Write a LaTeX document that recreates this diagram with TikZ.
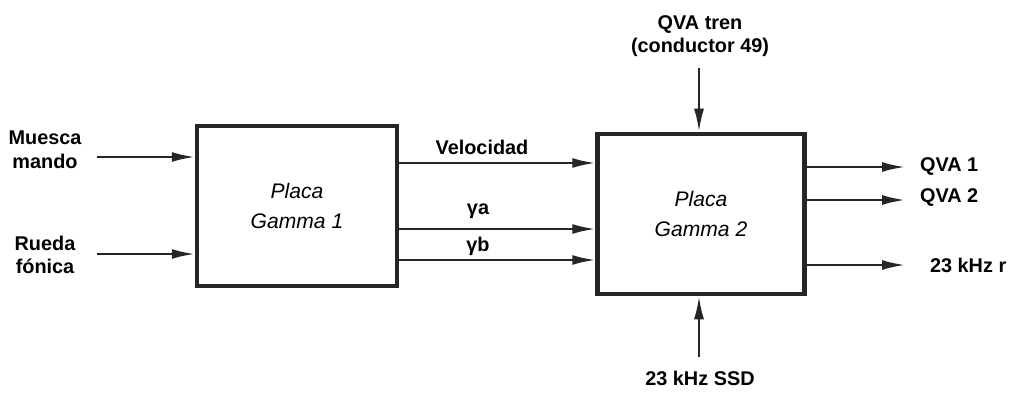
\documentclass[tikz,border=0pt]{standalone}
\usepackage{fontspec}
\setmainfont{Liberation Sans}
\usetikzlibrary{positioning, arrows.meta, calc}

\begin{document}
\begin{tikzpicture}[
    x=0.2mm, y=-0.2mm,
    >={Latex[length=4.6mm,width=2mm]},
    % Styles for nodes
    placa/.style={draw=black!85, rectangle, line width=0.9mm, minimum width=4cm, minimum height=3.2cm, align=center, font=\fontsize{12}{14}\selectfont\itshape},
    etiq/.style={align=center, inner sep=1pt, font=\fontsize{11.3}{13.5}\selectfont\bfseries},
    senal/.style={->, line width=0.45mm, draw=black!85}
]
    \useasboundingbox (0,0) rectangle (1010,393);

    % Boards
    \node (g1) [placa] at (297,206) {Placa\\[3pt]Gamma 1};
    \node (g2) [placa, minimum width=4.14cm] at (701,214) {Placa\\[3pt]Gamma 2};

    % Free ends of the connectors
    \coordinate (muesca) at (97,157);
    \coordinate (rueda) at (97,254);
    \coordinate (qvat) at (699,68);
    \coordinate (ssd) at (699,357);
    \coordinate (q1) at (905,167);
    \coordinate (q2) at (905,200);
    \coordinate (khz) at (905,265);

    % Texts
    \node (lmues) [etiq] at (45,150) {Muesca\\mando};
    \node (lrued) [etiq] at (45,255) {Rueda\\fónica};
    \node (lvel) [etiq] at (482,147) {Velocidad};
    \node (lga) [etiq] at (478,211) {γa};
    \node (lgb) [etiq] at (478,246) {γb};
    \node (lqvat) [etiq] at (700,36) {QVA tren\\(conductor 49)};
    \node (lssd) [etiq] at (700,378) {23 kHz SSD};
    \node (lq1) [etiq, anchor=west] at (918,167) {QVA 1};
    \node (lq2) [etiq, anchor=west] at (918,198) {QVA 2};
    \node (lkhz) [etiq, anchor=west] at (928,265) {23 kHz r};

    % Inputs of board 1
    \draw [senal] (muesca) -- (muesca -| g1.west);
    \draw [senal] (rueda) -- (rueda -| g1.west);

    % Board 1 to board 2
    \draw [senal] (g1.east |- 0,163) -- (g2.west |- 0,163);
    \draw [senal] (g1.east |- 0,229) -- (g2.west |- 0,229);
    \draw [senal] (g1.east |- 0,260) -- (g2.west |- 0,260);

    % Board 2
    \draw [senal] (qvat) -- (qvat |- g2.north);
    \draw [senal] (ssd) -- (ssd |- g2.south);
    \draw [senal] (q1 -| g2.east) -- (q1);
    \draw [senal] (q2 -| g2.east) -- (q2);
    \draw [senal] (khz -| g2.east) -- (khz);

\end{tikzpicture}
\end{document}
